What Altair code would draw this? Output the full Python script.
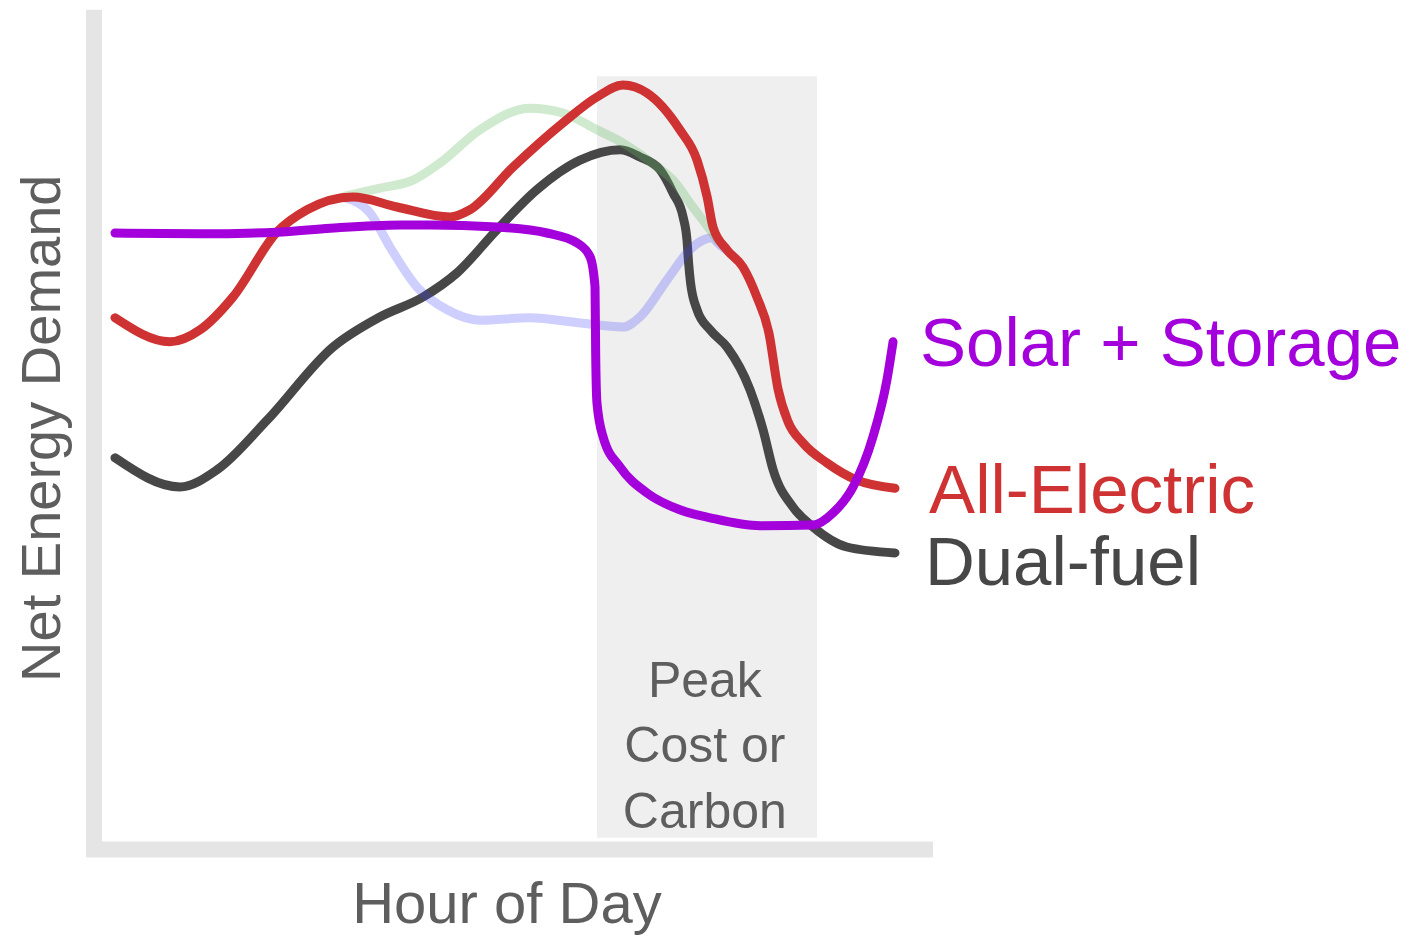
import altair as alt
import pandas as pd

# ---- data (hour of day, net energy demand, arbitrary units) ----
all_electric_hour = [0, 1.69, 2.62, 3.63, 4.98, 5.91, 7.32, 8.68, 10.31, 10.92, 12.25, 13.78,
                     14.83, 15.63, 16.37, 17.38, 17.91, 18.22, 18.4, 18.83, 19.32, 19.75,
                     20.12, 20.4, 20.7, 21.17, 21.91, 22.83, 24.0]
all_electric_demand = [66.4, 63.4, 64.9, 69.0, 77.1, 79.9, 81.5, 80.25, 79.0, 79.9, 85.25, 90.75,
                       94.0, 95.5, 94.5, 89.9, 86.1, 81.5, 77.75, 74.9, 72.75, 69.0,
                       64.5, 57.5, 53.5, 50.75, 48.25, 46.1, 45.1]

dual_fuel_hour = [0, 2.0, 3.14, 4.68, 6.71, 8.15, 9.48, 10.52, 11.75, 12.98, 14.31, 15.54, 16.15,
                  16.77, 17.17, 17.48, 17.6, 17.65, 17.71, 17.91, 18.31, 18.83, 19.54, 19.94,
                  20.25, 20.86, 21.48, 22.52, 24.0]
dual_fuel_demand = [48.9, 45.25, 47.4, 53.6, 62.75, 66.5, 69.0, 72.0, 77.4, 82.4, 86.1, 87.4, 86.5,
                    84.9, 82.0, 79.0, 76.1, 73.25, 70.75, 67.4, 64.9, 62.75, 57.4, 52.4,
                    47.4, 42.75, 40.25, 37.75, 37.0]

solar_storage_hour = [0, 2.62, 4.98, 6.62, 8.77, 9.69, 11.75, 13.29, 14.22, 14.62, 14.77, 14.79,
                      14.83, 15.02, 15.54, 16.37, 17.38, 18.31, 19.85, 21.48, 22.09, 22.71,
                      23.32, 23.75, 23.94]
solar_storage_demand = [77.0, 76.9, 77.1, 77.6, 78.0, 78.0, 77.75, 77.0, 75.75, 74.0, 70.25, 62.0,
                        55.75, 51.5, 47.75, 44.5, 42.4, 41.4, 40.4, 40.5, 42.0, 45.25,
                        51.5, 58.6, 63.4]

faint_green_hour = [7.08, 8.15, 9.17, 10.0, 11.23, 12.77, 13.78, 14.83, 15.63, 16.68, 17.17,
                    17.78, 18.31, 18.55]
faint_green_demand = [81.6, 82.6, 83.6, 85.75, 89.9, 92.6, 92.0, 89.9, 88.25, 85.25, 83.6,
                      80.25, 77.4, 76.1]

faint_blue_hour = [7.08, 7.85, 8.46, 9.29, 10.22, 11.23, 12.77, 14.31, 15.63, 16.15, 16.98,
                   17.69, 18.09, 18.37, 18.55, 18.77]
faint_blue_demand = [81.4, 79.5, 75.25, 70.25, 67.4, 66.1, 66.4, 65.75, 65.25, 66.5, 71.1,
                     74.9, 76.1, 76.4, 75.75, 75.0]

peak_window_hours = [14.83, 21.6]
peak_window_demand = [1.4, 96.6]
peak_text = ["Peak", "Cost or", "Carbon"]

series_labels = ["Solar + Storage", "All-Electric", "Dual-fuel"]
series_colors = ["#a300dc", "#cf3232", "#474747"]

x_title = "Hour of Day"
y_title = "Net Energy Demand"

# ---- scales ----
X_DOMAIN = [-3.292, 39.6]
Y_DOMAIN = [-10.875, 105.125]
xs = alt.Scale(domain=X_DOMAIN, nice=False, zero=False)
ys = alt.Scale(domain=Y_DOMAIN, nice=False, zero=False)

FONT = "Liberation Sans"
TEXT_GRAY = "#5e5e5e"


def line_layer(hours, demand, color, opacity=1.0):
    df = pd.DataFrame({"h": hours, "v": demand, "i": range(len(hours))})
    return alt.Chart(df).mark_line(
        interpolate="monotone", strokeWidth=9, strokeCap="round",
        color=color, opacity=opacity
    ).encode(
        x=alt.X("h:Q", scale=xs, axis=None),
        y=alt.Y("v:Q", scale=ys, axis=None),
        order=alt.Order("i:Q"),
    )


# peak window background
rect_df = pd.DataFrame({"h1": [peak_window_hours[0]], "h2": [peak_window_hours[1]],
                        "v1": [peak_window_demand[0]], "v2": [peak_window_demand[1]]})
peak_rect = alt.Chart(rect_df).mark_rect(color="#efefef").encode(
    x=alt.X("h1:Q", scale=xs, axis=None), x2="h2:Q",
    y=alt.Y("v1:Q", scale=ys, axis=None), y2="v2:Q",
)

# thick L-shaped axes
vaxis_df = pd.DataFrame({"h": [-0.646], "v1": [-1.0], "v2": [104.9]})
vaxis = alt.Chart(vaxis_df).mark_rule(color="#e5e5e5", strokeWidth=16, strokeCap="butt").encode(
    x=alt.X("h:Q", scale=xs, axis=None),
    y=alt.Y("v1:Q", scale=ys, axis=None), y2="v2:Q",
)
haxis_df = pd.DataFrame({"h1": [-0.89], "h2": [25.17], "v": [-0.06]})
haxis = alt.Chart(haxis_df).mark_rule(color="#e5e5e5", strokeWidth=16, strokeCap="butt").encode(
    x=alt.X("h1:Q", scale=xs, axis=None), x2="h2:Q",
    y=alt.Y("v:Q", scale=ys, axis=None),
)

# peak text
peak_df = pd.DataFrame({"t": peak_text, "h": [18.15] * 3, "v": [19.0, 10.9, 2.6]})
peak_label = alt.Chart(peak_df).mark_text(
    font=FONT, fontSize=50, color=TEXT_GRAY, align="center", baseline="alphabetic"
).encode(x=alt.X("h:Q", scale=xs, axis=None), y=alt.Y("v:Q", scale=ys, axis=None), text="t:N")

# axis titles
xt_df = pd.DataFrame({"t": [x_title], "h": [12.06], "v": [-9.25]})
x_title_mark = alt.Chart(xt_df).mark_text(
    font=FONT, fontSize=58, color=TEXT_GRAY, align="center", baseline="alphabetic"
).encode(x=alt.X("h:Q", scale=xs, axis=None), y=alt.Y("v:Q", scale=ys, axis=None), text="t:N")

yt_df = pd.DataFrame({"t": [y_title], "h": [-1.692], "v": [52.6]})
y_title_mark = alt.Chart(yt_df).mark_text(
    font=FONT, fontSize=56, color=TEXT_GRAY, align="center", baseline="alphabetic", angle=270
).encode(x=alt.X("h:Q", scale=xs, axis=None), y=alt.Y("v:Q", scale=ys, axis=None), text="t:N")

# series labels
lab_df = pd.DataFrame({"t": series_labels, "h": [24.77, 25.05, 24.92], "v": [60.4, 42.0, 33.0],
                       "c": series_labels})
labels = alt.Chart(lab_df).mark_text(
    font=FONT, fontSize=69, align="left", baseline="alphabetic"
).encode(
    x=alt.X("h:Q", scale=xs, axis=None), y=alt.Y("v:Q", scale=ys, axis=None), text="t:N",
    color=alt.Color("c:N", scale=alt.Scale(domain=series_labels, range=series_colors), legend=None),
)

chart = alt.layer(
    peak_rect,
    vaxis,
    haxis,
    line_layer(dual_fuel_hour, dual_fuel_demand, "#474747"),
    line_layer(faint_blue_hour, faint_blue_demand, "#3c3cff", 0.25),
    line_layer(faint_green_hour, faint_green_demand, "#5fb85f", 0.3),
    line_layer(all_electric_hour, all_electric_demand, "#cf3232"),
    line_layer(solar_storage_hour, solar_storage_demand, "#a300dc"),
    peak_label,
    x_title_mark,
    y_title_mark,
    labels,
).properties(
    width=1394, height=928, padding=0,
    autosize=alt.AutoSizeParams(type="none"),
).configure_view(strokeWidth=0)

chart.save("out.html", embed_options={"renderer": "svg", "actions": False})
